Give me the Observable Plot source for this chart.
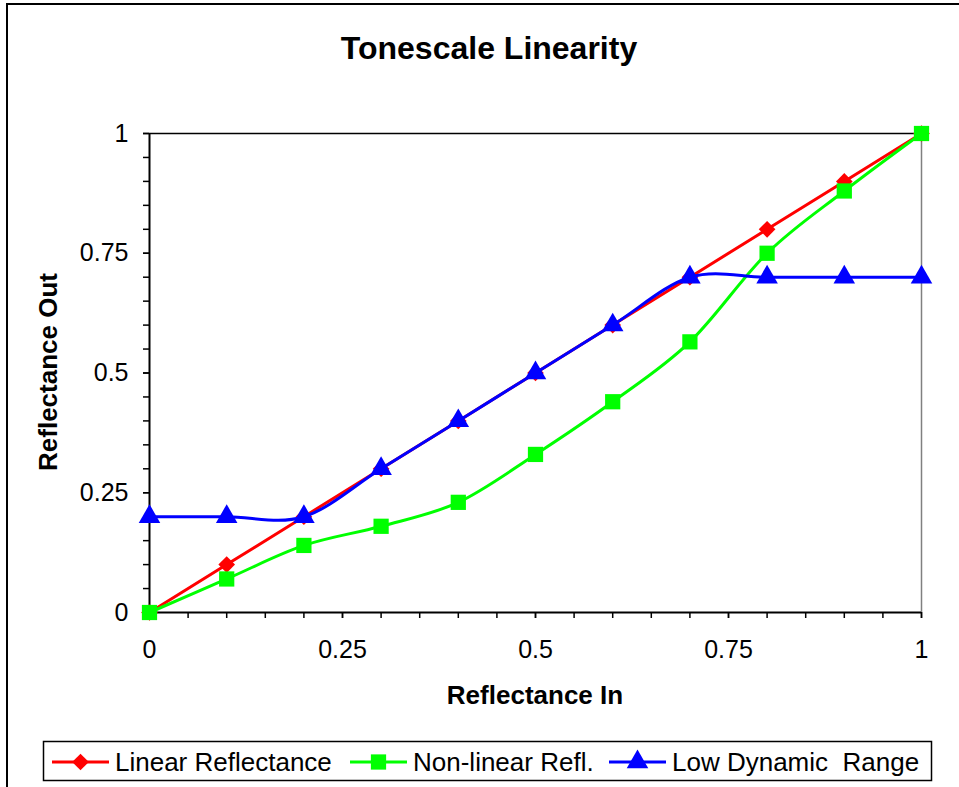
<!DOCTYPE html>
<html>
<head>
<meta charset="utf-8">
<script src="https://cdn.jsdelivr.net/npm/d3@7"></script>
<script src="https://cdn.jsdelivr.net/npm/@observablehq/plot@0.6"></script>
<style>
  html, body { margin: 0; padding: 0; background: white; }
  #chart svg { display: block; }
</style>
</head>
<body>
<div id="chart"></div>
<script>
// ---- data ----
const reflIn = [0, 0.1, 0.2, 0.3, 0.4, 0.5, 0.6, 0.7, 0.8, 0.9, 1];
const linearRefl = [0, 0.1, 0.2, 0.3, 0.4, 0.5, 0.6, 0.7, 0.8, 0.9, 1];
const nonLinearRefl = [0, 0.07, 0.14, 0.18, 0.23, 0.33, 0.44, 0.565, 0.75, 0.88, 1];
const lowDynamicRange = [0.2, 0.2, 0.2, 0.3, 0.4, 0.5, 0.6, 0.7, 0.7, 0.7, 0.7];

const majorTicks = [0, 0.25, 0.5, 0.75, 1];
const minorTicks = [0, 0.05, 0.1, 0.15, 0.2, 0.25, 0.3, 0.35, 0.4, 0.45, 0.5, 0.55, 0.6, 0.65, 0.7, 0.75, 0.8, 0.85, 0.9, 0.95, 1];

const seriesNames = ["Linear Reflectance", "Non-linear Refl.", "Low Dynamic  Range"];
const seriesColors = ["#FF0000", "#00FF00", "#0000FF"];
const seriesSymbols = ["diamond2", "square", "triangle"];
const seriesR = [7.5, 8.6, 8.0];
const seriesValues = [linearRefl, nonLinearRefl, lowDynamicRange];

const titleText = "Tonescale Linearity";
const xTitle = "Reflectance In";
const yTitle = "Reflectance Out";

// ---- table ----
const rows = [];
seriesNames.forEach((name, s) => {
  reflIn.forEach((x, i) => rows.push({series: name, x, y: seriesValues[s][i]}));
});

const font = "'Liberation Sans', Arial, Helvetica, sans-serif";
const fmt = d => String(d);

const seriesMarks = [];
seriesNames.forEach((name, s) => {
  const data = rows.filter(r => r.series === name);
  seriesMarks.push(Plot.line(data, {x: "x", y: "y", stroke: seriesColors[s], strokeWidth: 3, curve: s === 0 ? "linear" : "cardinal"}));
  seriesMarks.push(Plot.dot(data, {x: "x", y: "y", symbol: seriesSymbols[s], r: seriesR[s], fill: seriesColors[s], stroke: "none"}));
});

const W = 959, H = 787;
const chart = Plot.plot({
  width: W, height: H,
  marginLeft: 149, marginRight: 38, marginTop: 133, marginBottom: 175,
  x: {domain: [0, 1], label: null},
  y: {domain: [0, 1], label: null},
  style: {fontFamily: font, fontSize: "25px", color: "black", background: "white", overflow: "visible"},
  marks: [
    Plot.axisY(minorTicks, {tickSize: 6, text: null, label: null, strokeWidth: 1.5}),
    Plot.axisY(majorTicks, {tickSize: 6, tickPadding: 15, tickFormat: fmt, fontSize: 25, label: null, strokeWidth: 1.5}),
    Plot.axisX(minorTicks, {tickSize: 6, text: null, label: null, strokeWidth: 1.5}),
    Plot.axisX(majorTicks, {tickSize: 6, tickPadding: 22, tickFormat: fmt, fontSize: 25, label: null, strokeWidth: 1.5}),
    Plot.ruleY([1], {stroke: "black", strokeWidth: 1.5}),
    Plot.ruleX([1], {stroke: "#808080", strokeWidth: 1.5}),
    Plot.ruleX([0], {stroke: "black", strokeWidth: 2}),
    Plot.ruleY([0], {stroke: "black", strokeWidth: 2}),
    ...seriesMarks
  ]
});

document.getElementById("chart").appendChild(chart);

// ---- decorations: border, titles, legend ----
const svg = d3.select(chart);
svg.insert("rect", ":first-child")
  .attr("x", 7).attr("y", 4).attr("width", W + 10).attr("height", H + 10)
  .attr("fill", "white").attr("stroke", "black").attr("stroke-width", 2);

svg.append("text").text(titleText)
  .attr("x", 489).attr("y", 59).attr("text-anchor", "middle")
  .attr("font-family", font).attr("font-weight", "bold").attr("font-size", 32);

svg.append("text").text(xTitle)
  .attr("x", 535).attr("y", 704).attr("text-anchor", "middle")
  .attr("font-family", font).attr("font-weight", "bold").attr("font-size", 26);

svg.append("text").text(yTitle)
  .attr("transform", "translate(57,372) rotate(-90)").attr("text-anchor", "middle")
  .attr("font-family", font).attr("font-weight", "bold").attr("font-size", 26);

const lg = svg.append("g").attr("font-family", font).attr("font-size", 26);
lg.append("rect").attr("x", 43.5).attr("y", 741.5).attr("width", 888).attr("height", 39)
  .attr("fill", "white").attr("stroke", "black").attr("stroke-width", 1.5);
const legendX = [52, 350, 609];
const symMap = {diamond2: d3.symbolDiamond2, square: d3.symbolSquare, triangle: d3.symbolTriangle};
seriesNames.forEach((name, s) => {
  const x0 = legendX[s], cy = 762;
  lg.append("line").attr("x1", x0).attr("x2", x0 + 57).attr("y1", cy).attr("y2", cy)
    .attr("stroke", seriesColors[s]).attr("stroke-width", 3);
  lg.append("path")
    .attr("d", d3.symbol(symMap[seriesSymbols[s]], Math.PI * seriesR[s] * seriesR[s])())
    .attr("transform", `translate(${x0 + 28.5},${cy})`).attr("fill", seriesColors[s]);
  lg.append("text").text(name).attr("x", x0 + 63).attr("y", cy + 9)
    .attr("text-anchor", "start")
    .style("white-space", "pre");
});
</script>
</body>
</html>
